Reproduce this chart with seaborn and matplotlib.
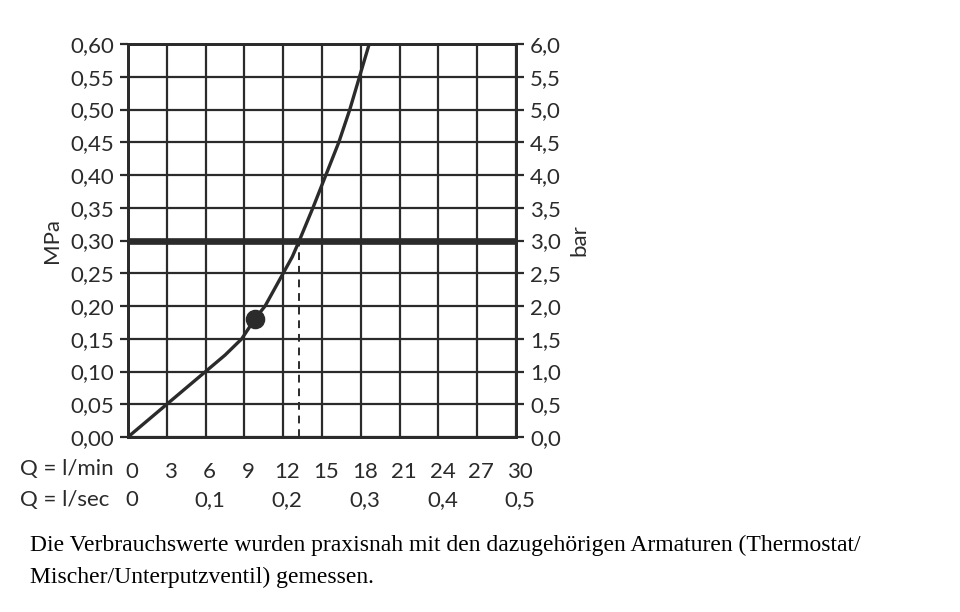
import matplotlib
matplotlib.use("Agg")
import matplotlib.pyplot as plt
import matplotlib.transforms as mtransforms
import numpy as np
import pandas as pd
import seaborn as sns

# data
flow_lmin = [0, 1.5, 3.0, 4.5, 6.0, 7.5, 8.8, 9.8, 10.6, 11.3, 12.0, 12.7, 13.25,
             14.3, 15.3, 16.3, 17.15, 17.9, 18.65]
pressure_mpa = [0, 0.025, 0.05, 0.075, 0.10, 0.125, 0.15, 0.18, 0.20, 0.225, 0.25, 0.275, 0.30,
                0.35, 0.40, 0.45, 0.50, 0.55, 0.60]
dot_flow = [9.8]
dot_pressure = [0.18]
limit_pressure = 0.30
limit_flow = 13.25

mpa_ticks = [0.00, 0.05, 0.10, 0.15, 0.20, 0.25, 0.30, 0.35, 0.40, 0.45, 0.50, 0.55, 0.60]
mpa_labels = ["0,00", "0,05", "0,10", "0,15", "0,20", "0,25", "0,30", "0,35", "0,40", "0,45", "0,50", "0,55", "0,60"]
bar_ticks = [0.0, 0.5, 1.0, 1.5, 2.0, 2.5, 3.0, 3.5, 4.0, 4.5, 5.0, 5.5, 6.0]
bar_labels = ["0,0", "0,5", "1,0", "1,5", "2,0", "2,5", "3,0", "3,5", "4,0", "4,5", "5,0", "5,5", "6,0"]
lmin_ticks = [0, 3, 6, 9, 12, 15, 18, 21, 24, 27, 30]
lsec_pos = [0, 6, 12, 18, 24, 30]
lsec_labels = ["0", "0,1", "0,2", "0,3", "0,4", "0,5"]
caption = ("Die Verbrauchswerte wurden praxisnah mit den dazugehörigen Armaturen (Thermostat/\n"
           "Mischer/Unterputzventil) gemessen.")

df = pd.DataFrame({"flow": flow_lmin, "pressure": pressure_mpa})
df_dot = pd.DataFrame({"flow": dot_flow, "pressure": dot_pressure})

sns.set_style("white")
plt.rcParams["font.family"] = ["Lato", "DejaVu Sans"]
ink = "#2b2b2b"
fs = 16

fig = plt.figure(figsize=(9.6, 6.12), dpi=100)
ax = fig.add_axes([128 / 960, 1 - 437 / 612, 388 / 960, 393 / 612])
shift = mtransforms.ScaledTranslation(4 / 100, 0, fig.dpi_scale_trans)

# grid
for x in lmin_ticks:
    ax.axvline(x, color=ink, lw=1.6, zorder=1)
for y in mpa_ticks:
    ax.axhline(y, color=ink, lw=1.6, zorder=1)

ax.axhline(limit_pressure, color=ink, lw=4.8, zorder=2)
ax.plot([limit_flow, limit_flow], [0, limit_pressure], color=ink, lw=1.4,
        dashes=(4, 3), zorder=3)

sns.lineplot(data=df, x="flow", y="pressure", ax=ax, color=ink, lw=2.4, zorder=4)
sns.scatterplot(data=df_dot, x="flow", y="pressure", ax=ax, color=ink, s=170,
                edgecolor=ink, zorder=5)

ax.set_xlim(0, 30)
ax.set_ylim(0, 0.60)
ax.set_xlabel("")
ax.set_ylabel("MPa", fontsize=fs, color=ink, labelpad=6)
ax.set_yticks(mpa_ticks)
ax.set_yticklabels(mpa_labels, fontsize=fs, color=ink)
ax.set_xticks(lmin_ticks)
ax.set_xticklabels([str(v) for v in lmin_ticks], fontsize=fs, color=ink)
ax.tick_params(axis="both", direction="out", length=6, width=1.6, color=ink, pad=4)
ax.tick_params(axis="x", pad=12)
for lab in ax.get_xticklabels():
    lab.set_transform(lab.get_transform() + shift)
for s in ax.spines.values():
    s.set_color(ink)
    s.set_linewidth(2)

ax2 = ax.twinx()
ax2.set_ylim(0, 6.0)
ax2.set_yticks(bar_ticks)
ax2.set_yticklabels(bar_labels, fontsize=fs, color=ink)
ax2.set_ylabel("bar", fontsize=fs, color=ink, labelpad=6)
ax2.tick_params(axis="y", direction="out", length=6, width=1.6, color=ink, pad=4)
for s in ax2.spines.values():
    s.set_color(ink)
    s.set_linewidth(2)

# second flow row (l/sec)
trans = mtransforms.blended_transform_factory(ax.transData, fig.transFigure) + shift
for pos, lab in zip(lsec_pos, lsec_labels):
    ax.text(pos, 1 - 500 / 612, lab, transform=trans, ha="center", va="center",
            fontsize=fs, color=ink)

fig.text(20 / 960, 1 - 469 / 612, "Q = l/min", ha="left", va="center", fontsize=fs, color=ink)
fig.text(20 / 960, 1 - 500 / 612, "Q = l/sec", ha="left", va="center", fontsize=fs, color=ink)

fig.text(30 / 960, 1 - 535 / 612, caption, ha="left", va="top", fontsize=17,
         family="Liberation Serif", color="black", linespacing=1.65)

fig.savefig("out.png", dpi=100)
